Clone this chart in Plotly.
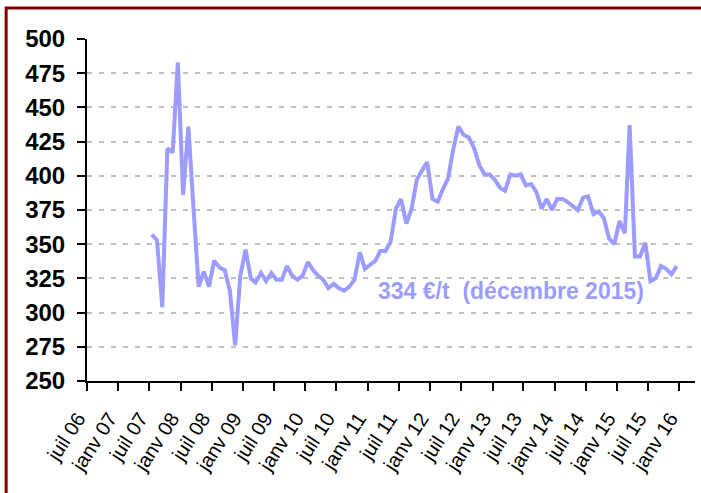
import pandas as pd
import plotly.graph_objects as go

# Monthly price (€/t), July 2007 -> December 2015
START_MONTH = "2007-07"
PRICES = [
    357, 353, 304, 420, 417, 483,            # 2007 jul-dec
    386, 436, 378, 319, 330, 319, 338, 333, 331, 316, 276, 327,   # 2008
    346, 325, 322, 329, 323, 329, 324, 324, 334, 327, 324, 327,   # 2009
    337, 331, 327, 324, 318, 321, 318, 316, 319, 324, 344, 332,   # 2010
    335, 338, 345, 345, 352, 376, 383, 365, 376, 397, 404, 410,   # 2011
    383, 381, 390, 398, 419, 436, 430, 428, 420, 408, 401, 401,   # 2012
    397, 391, 389, 401, 400, 401, 393, 394, 388, 376, 383, 375,   # 2013
    383, 383, 381, 378, 375, 384, 385, 372, 374, 369, 354, 350,   # 2014
    367, 358, 437, 341, 341, 351, 323, 325, 334, 332, 328, 334,   # 2015
]
TICK_DATES = [
    "2006-07-01", "2007-01-01", "2007-07-01", "2008-01-01", "2008-07-01",
    "2009-01-01", "2009-07-01", "2010-01-01", "2010-07-01", "2011-01-01",
    "2011-07-01", "2012-01-01", "2012-07-01", "2013-01-01", "2013-07-01",
    "2014-01-01", "2014-07-01", "2015-01-01", "2015-07-01", "2016-01-01",
]
TICK_LABELS = [
    "juil 06", "janv 07", "juil 07", "janv 08", "juil 08",
    "janv 09", "juil 09", "janv 10", "juil 10", "janv 11",
    "juil 11", "janv 12", "juil 12", "janv 13", "juil 13",
    "janv 14", "juil 14", "janv 15", "juil 15", "janv 16",
]
Y_TICKS = [250, 275, 300, 325, 350, 375, 400, 425, 450, 475, 500]
NOTE = "334 €/t  (décembre 2015)"

dates = pd.date_range(START_MONTH + "-01", periods=len(PRICES), freq="MS") + pd.Timedelta(days=14)

LINE_COLOR = "#9C9CFF"
FONT = "Liberation Sans, Arial, sans-serif"

fig = go.Figure()
fig.add_trace(go.Scatter(
    x=dates, y=PRICES, mode="lines",
    line=dict(color=LINE_COLOR, width=4),
    hoverinfo="x+y", showlegend=False,
))

fig.update_layout(
    width=701, height=493,
    margin=dict(l=87, r=6, t=39, b=112),
    paper_bgcolor="white", plot_bgcolor="white",
    font=dict(family=FONT, color="black"),
    xaxis=dict(
        type="date", range=["2006-07-01", "2016-04-01"],
        tickmode="array", tickvals=TICK_DATES, ticktext=TICK_LABELS,
        tickangle=-57, tickfont=dict(size=20, family=FONT),
        ticks="outside", ticklen=8, tickwidth=2, tickcolor="black",
        showline=True, linewidth=2, linecolor="black",
        showgrid=False, zeroline=False, ticklabelstandoff=8,
        ticklabelshift=-9, automargin=False,
    ),
    yaxis=dict(
        range=[250, 500], tickmode="array", tickvals=Y_TICKS,
        tickfont=dict(size=24, family=FONT, weight="bold"),
        ticks="outside", ticklen=8, tickwidth=2, tickcolor="black",
        showline=True, linewidth=2, linecolor="black",
        showgrid=True, gridcolor="#BFBFBF", gridwidth=2, griddash="5px,7px",
        zeroline=False, ticklabelstandoff=7, automargin=False,
    ),
    annotations=[dict(
        text=NOTE, xref="paper", yref="y",
        x=0.698, y=316, xanchor="center", yanchor="middle", showarrow=False,
        font=dict(size=23, color=LINE_COLOR, family=FONT, weight="bold"),
    )],
    shapes=[dict(
        type="rect", xref="paper", yref="paper",
        x0=-0.133, x1=1.2, y0=-0.5, y1=1.091,
        line=dict(color="#800000", width=3), layer="above",
    )],
)

fig.write_html(
    "out.html",
    config={"displayModeBar": False},
    post_script="document.body.style.margin='0px';document.body.style.overflow='hidden';",
)
